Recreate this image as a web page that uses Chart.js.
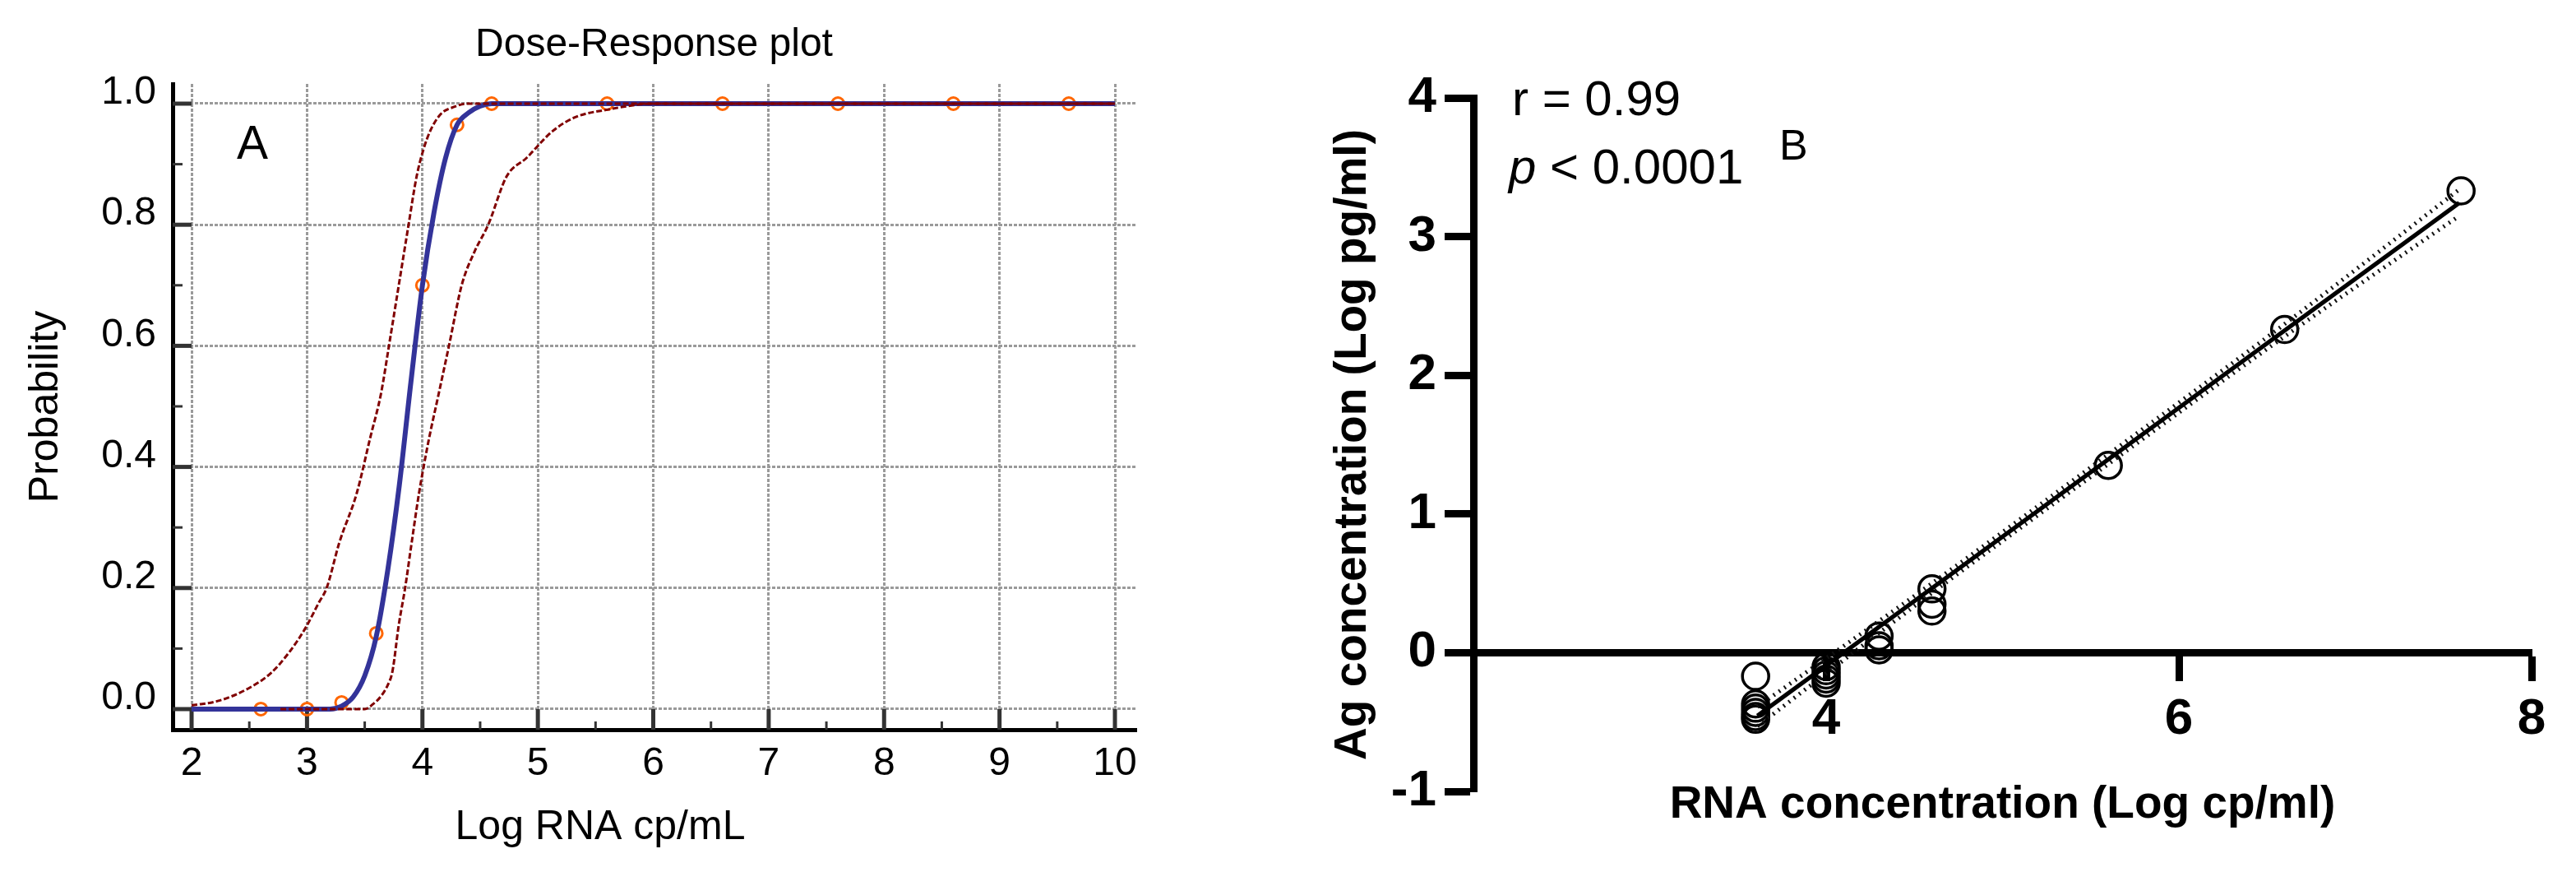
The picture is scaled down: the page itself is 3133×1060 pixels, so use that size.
<!DOCTYPE html>
<html><head><meta charset="utf-8">
<script src="https://cdn.jsdelivr.net/npm/chart.js@4.4.1/dist/chart.umd.min.js"></script>
<style>
html,body{margin:0;padding:0;background:#fff;}
#wrap{position:relative;width:3133px;height:1060px;overflow:hidden;background:#fff;}
canvas{position:absolute;top:0;}
#cA{left:0;} #cB{left:1560px;}
</style></head><body>
<div id="wrap"><canvas id="cA" width="1560" height="1060"></canvas><canvas id="cB" width="1573" height="1060"></canvas></div>
<script>
// ---------- Panel A : dose-response ----------
const aTitle = 'Dose-Response plot';
const aXLabel = 'Log RNA cp/mL';
const aYLabel = 'Probability';
const aXTicks = [2, 3, 4, 5, 6, 7, 8, 9, 10];
const aXMinor = [2.5, 3.5, 4.5, 5.5, 6.5, 7.5, 8.5, 9.5];
const aYTicks = [0, 0.2, 0.4, 0.6, 0.8, 1.0];
const aYMinor = [0.1, 0.3, 0.5, 0.7, 0.9];
const aObsX = [2.6, 3.0, 3.3, 3.6, 4.0, 4.3, 4.6, 5.6, 6.6, 7.6, 8.6, 9.6];
const aObsY = [0, 0, 0.011, 0.125, 0.70, 0.965, 1.0, 1.0, 1.0, 1.0, 1.0, 1.0];
const aFitX = [2, 3.2, 3.3, 3.4, 3.5, 3.6, 3.7, 3.8, 3.9, 4.0, 4.1, 4.2, 4.3, 4.4, 4.5, 4.6, 10];
const aFitY = [0, 0, 0.005, 0.02, 0.055, 0.12, 0.23, 0.37, 0.54, 0.70, 0.82, 0.91, 0.965, 0.985, 0.996, 1.0, 1.0];
const aUpX = [2, 2.24, 2.5, 2.69, 2.85, 2.99, 3.1, 3.17, 3.28, 3.43, 3.55, 3.64, 3.71, 3.795, 3.88, 3.95, 4.01, 4.07, 4.16, 4.28, 4.38, 10];
const aUpY = [0.006, 0.014, 0.035, 0.06, 0.095, 0.135, 0.175, 0.2, 0.275, 0.356, 0.45, 0.52, 0.6, 0.7, 0.8, 0.88, 0.925, 0.956, 0.983, 0.995, 1.0, 1.0];
const aLoX = [2.77, 3.5, 3.57, 3.64, 3.70, 3.74, 3.795, 3.85, 3.90, 3.97, 4.05, 4.14, 4.23, 4.34, 4.45, 4.57, 4.73, 4.90, 5.13, 5.33, 5.6, 6.0, 10];
const aLoY = [0, 0, 0.008, 0.021, 0.04, 0.062, 0.139, 0.2, 0.266, 0.356, 0.44, 0.52, 0.6, 0.7, 0.755, 0.8, 0.88, 0.91, 0.955, 0.978, 0.99, 1.0, 1.0];

// ---------- Panel B : correlation ----------
const bXLabel = 'RNA concentration (Log cp/ml)';
const bYLabel = 'Ag concentration (Log pg/ml)';
const bXTicks = [2, 4, 6, 8];
const bYTicks = [-1, 0, 1, 2, 3, 4];
const bObsX = [3.6, 3.6, 3.6, 3.6, 3.6, 3.6, 4.0, 4.0, 4.0, 4.0, 4.0, 4.3, 4.3, 4.3, 4.6, 4.6, 4.6, 5.6, 6.6, 7.6];
const bObsY = [-0.17, -0.37, -0.40, -0.43, -0.46, -0.48, -0.10, -0.13, -0.16, -0.19, -0.22, 0.12, 0.05, 0.02, 0.46, 0.35, 0.30, 1.35, 2.33, 3.33];
const bFitX = [3.61, 7.59];
const bFitY = [-0.455, 3.243];
const bUpX = [3.61, 4.6, 5.6, 6.6, 7.59];
const bUpY = [-0.39, 0.50, 1.43, 2.37, 3.34];
const bLoX = [3.61, 4.6, 5.6, 6.6, 7.59];
const bLoY = [-0.53, 0.43, 1.36, 2.28, 3.15];
const bStats = ['r = 0.99', 'p', ' < 0.0001'];

const FONT = "'Liberation Sans', Arial, sans-serif";
Chart.defaults.font.family = FONT;
Chart.defaults.animation = false;

const pts = (xs, ys) => xs.map((x, i) => ({x: x, y: ys[i]}));

const innerTicksA = {
  id: 'innerTicksA',
  beforeDatasetsDraw(chart) {
    const {ctx, chartArea: ca, scales: {x, y}} = chart;
    const xStart = x.getPixelForValue(aXTicks[0]);
    const yBase = y.getPixelForValue(aYTicks[0]);
    ctx.save();
    ctx.strokeStyle = '#333';
    const seg = (x1, y1, x2, y2, w) => { ctx.lineWidth = w; ctx.beginPath(); ctx.moveTo(x1, y1); ctx.lineTo(x2, y2); ctx.stroke(); };
    aYTicks.forEach(v => { const p = y.getPixelForValue(v); seg(ca.left, p, xStart, p, 5); });
    aYMinor.forEach(v => { const p = y.getPixelForValue(v); seg(ca.left, p, ca.left + 12, p, 3); });
    aXTicks.forEach(v => { const p = x.getPixelForValue(v); seg(p, ca.bottom, p, yBase, 5); });
    aXMinor.forEach(v => { const p = x.getPixelForValue(v); seg(p, ca.bottom, p, ca.bottom - 10, 3); });
    ctx.restore();
  },
  afterDraw(chart) {
    const {ctx} = chart;
    ctx.save();
    ctx.fillStyle = '#000';
    ctx.textAlign = 'center';
    ctx.textBaseline = 'alphabetic';
    ctx.font = "57px " + FONT;
    ctx.fillText('A', 307, 193);
    ctx.font = "50px " + FONT;
    ctx.textBaseline = 'middle';
    ctx.fillText(aXLabel, 730, 1006);
    ctx.restore();
  }
};

new Chart(document.getElementById('cA'), {
  type: 'scatter',
  data: {
    datasets: [
      {label: 'upper', data: pts(aUpX, aUpY), showLine: true, pointRadius: 0, borderColor: '#800000', borderWidth: 3, borderDash: [7, 3], cubicInterpolationMode: 'monotone', order: 0},
      {label: 'lower', data: pts(aLoX, aLoY), showLine: true, pointRadius: 0, borderColor: '#800000', borderWidth: 3, borderDash: [7, 3], cubicInterpolationMode: 'monotone', order: 0},
      {label: 'fit', data: pts(aFitX, aFitY), showLine: true, pointRadius: 0, borderColor: '#333399', borderWidth: 6, cubicInterpolationMode: 'monotone', order: 1},
      {label: 'observed', data: pts(aObsX, aObsY), showLine: false, pointRadius: 7.5, pointBorderWidth: 3, pointBorderColor: '#ff6600', pointBackgroundColor: 'rgba(0,0,0,0)', order: 2}
    ]
  },
  options: {
    responsive: false, events: [],
    layout: {padding: {left: 0, right: 179, top: 0, bottom: 0}},
    plugins: {
      legend: {display: false}, tooltip: {enabled: false},
      title: {display: true, text: aTitle, fullSize: false, color: '#000', font: {size: 48, weight: 'normal', lineHeight: 1}, padding: {top: 31, bottom: 23}}
    },
    scales: {
      x: {
        type: 'linear', min: 1.836, max: 10.178,
        afterBuildTicks: s => { s.ticks = aXTicks.map(v => ({value: v})); },
        afterFit: s => { s.height = 173; },
        grid: {color: '#9a9a9a', lineWidth: 3, drawTicks: false},
        border: {display: true, color: '#000', width: 5, dash: [4, 2]},
        ticks: {color: '#000', font: {size: 48, lineHeight: 1}, padding: 18, maxRotation: 0, callback: v => String(v)},
        title: {display: false}
      },
      y: {
        type: 'linear', min: -0.034, max: 1.0326,
        afterBuildTicks: s => { s.ticks = aYTicks.map(v => ({value: v})); },
        afterFit: s => { s.width = 210; },
        grid: {color: '#9a9a9a', lineWidth: 3, drawTicks: false},
        border: {display: true, color: '#000', width: 5, dash: [4, 2]},
        ticks: {color: '#000', font: {size: 48, lineHeight: 1}, padding: 20, labelOffset: -13, callback: v => Number(v).toFixed(1)},
        title: {display: true, text: aYLabel, color: '#000', font: {size: 50, lineHeight: 1}, padding: {top: 31, bottom: 0}}
      }
    }
  },
  plugins: [innerTicksA]
});

const textB = {
  id: 'textB',
  afterDraw(chart) {
    const {ctx} = chart;
    ctx.save();
    ctx.fillStyle = '#000';
    ctx.textAlign = 'left';
    ctx.textBaseline = 'alphabetic';
    ctx.font = "60px " + FONT;
    ctx.fillText(bStats[0], 279, 140);
    ctx.font = "italic 60px " + FONT;
    ctx.fillText(bStats[1], 275, 223);
    const w = ctx.measureText(bStats[1]).width;
    ctx.font = "60px " + FONT;
    ctx.fillText(bStats[2], 275 + w, 223);
    ctx.font = "52px " + FONT;
    ctx.fillText('B', 604, 194);
    ctx.restore();
  }
};

new Chart(document.getElementById('cB'), {
  type: 'scatter',
  data: {
    datasets: [
      {label: 'fit', data: pts(bFitX, bFitY), showLine: true, pointRadius: 0, borderColor: '#000', borderWidth: 5, order: 0},
      {label: 'upper95', data: pts(bUpX, bUpY), showLine: true, pointRadius: 0, borderColor: '#111', borderWidth: 5, borderDash: [2, 6], cubicInterpolationMode: 'monotone', order: 1},
      {label: 'lower95', data: pts(bLoX, bLoY), showLine: true, pointRadius: 0, borderColor: '#111', borderWidth: 5, borderDash: [2, 6], cubicInterpolationMode: 'monotone', order: 1},
      {label: 'samples', data: pts(bObsX, bObsY), showLine: false, pointRadius: 16, pointBorderWidth: 3.5, pointBorderColor: '#000', pointBackgroundColor: 'rgba(0,0,0,0)', order: 2}
    ]
  },
  options: {
    responsive: false, events: [],
    layout: {padding: {left: 0, right: 54, top: 119, bottom: 0}},
    plugins: {legend: {display: false}, tooltip: {enabled: false}},
    scales: {
      x: {
        type: 'linear', position: {y: 0}, min: 2, max: 8,
        afterBuildTicks: s => { s.ticks = bXTicks.map(v => ({value: v})); },
        grid: {display: true, drawOnChartArea: false, drawTicks: true, tickLength: 30, tickWidth: 9, tickColor: '#000'},
        border: {display: true, color: '#000', width: 9},
        ticks: {color: '#000', font: {size: 62, weight: 'bold', lineHeight: 1}, padding: 21, maxRotation: 0, callback: v => (v === bXTicks[0] ? '' : String(v))},
        title: {display: false}
      },
      x2: {
        type: 'linear', position: 'bottom', min: 2, max: 8,
        afterFit: s => { s.height = 98; },
        grid: {display: false}, border: {display: false}, ticks: {display: false},
        title: {display: true, text: bXLabel, color: '#000', font: {size: 55, weight: 'bold', lineHeight: 1}, padding: {top: 0, bottom: 54}}
      },
      y: {
        type: 'linear', position: 'left', min: -1, max: 4,
        afterBuildTicks: s => { s.ticks = bYTicks.map(v => ({value: v})); },
        afterFit: s => { s.width = 232; },
        grid: {display: true, drawOnChartArea: false, drawTicks: true, tickLength: 35, tickWidth: 9, tickColor: '#000'},
        border: {display: true, color: '#000', width: 9},
        ticks: {color: '#000', font: {size: 62, weight: 'bold', lineHeight: 1}, padding: 10, callback: v => String(v)},
        title: {display: true, text: bYLabel, color: '#000', font: {size: 55, weight: 'bold', lineHeight: 1}, padding: {top: 58, bottom: 0}}
      }
    }
  },
  plugins: [textB]
});
</script>
</body></html>
